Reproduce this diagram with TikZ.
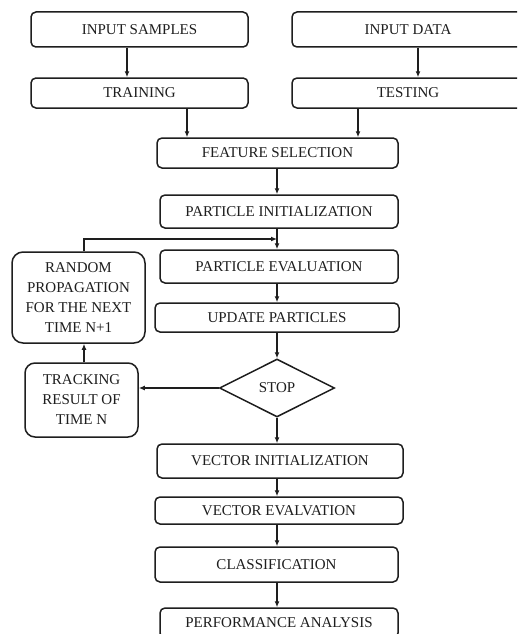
\documentclass[tikz,border=0pt]{standalone}
\usepackage{fontspec}
\setmainfont{Liberation Serif}
\usetikzlibrary{shapes.geometric,arrows.meta}
\definecolor{ink}{HTML}{1E1E1E}
\tikzset{
  box/.style={draw=ink, line width=1.5pt, rounded corners=5pt, inner sep=0pt,
    text=ink, font=\fontsize{15}{20}\selectfont, align=center},
  sidebox/.style={box, rounded corners=11pt},
  decision/.style={draw=ink, line width=1.5pt, diamond, inner sep=0pt, aspect=2,
    minimum width=115pt, minimum height=58pt, text=ink, font=\fontsize{15}{20}\selectfont},
  arr/.style={draw=ink, line width=1.4pt, -{Latex[length=6pt,width=5pt]}},
}
\begin{document}
\begin{tikzpicture}[x=1pt,y=-1pt]
\useasboundingbox (0,0) rectangle (517,634);
\fill[white] (0,0) rectangle (517,634);
\clip (0,0) rectangle (517,634);

% top row
\node[box, minimum width=217, minimum height=35] (ins)   at (139.5,29.5) {INPUT SAMPLES};
\node[box, minimum width=232, minimum height=35] (ind)   at (408,29.5)   {INPUT DATA};
\node[box, minimum width=217, minimum height=30] (train) at (139.5,93)   {TRAINING};
\node[box, minimum width=232, minimum height=30] (test)  at (408,93)     {TESTING};

% main column
\node[box, minimum width=241, minimum height=30] (feat)  at (277.5,153)  {FEATURE SELECTION};
\node[box, minimum width=238, minimum height=33] (pinit) at (279,211.5)  {PARTICLE INITIALIZATION};
\node[box, minimum width=238, minimum height=33] (peval) at (279,266.5)  {PARTICLE EVALUATION};
\node[box, minimum width=244, minimum height=29] (upd)   at (277,317.5)  {UPDATE PARTICLES};
\node[decision] (stop) at (277,388) {STOP};
\node[box, minimum width=246, minimum height=34] (vinit) at (280,461)    {VECTOR INITIALIZATION};
\node[box, minimum width=248, minimum height=27] (veval) at (279,510.5)  {VECTOR EVALVATION};
\node[box, minimum width=243, minimum height=35] (cls)   at (276.5,564.5){CLASSIFICATION};
\node[box, minimum width=238, minimum height=30] (perf)  at (279,623)    {PERFORMANCE ANALYSIS};

% feedback loop
\node[sidebox, minimum width=133, minimum height=91] (rand)  at (78.5,297.5)
  {RANDOM\\PROPAGATION\\FOR THE NEXT\\TIME N+1};
\node[box, rounded corners=10pt, minimum width=113, minimum height=74] (track) at (81.5,400)
  {TRACKING\\RESULT OF\\TIME N};
\coordinate (join) at (277,239);

% connectors
\draw[arr] ([xshift=-12.5]ins.south) -- ([xshift=-12.5]train.north);
\draw[arr] ([xshift=10]ind.south) -- ([xshift=10]test.north);
\draw[arr] ([xshift=47.5]train.south) -- ([xshift=47.5]train.south |- feat.north);
\draw[arr] ([xshift=-50]test.south) -- ([xshift=-50]test.south |- feat.north);
\draw[arr] (feat.south -| stop.north) -- (pinit.north -| stop.north);
\draw[arr] (pinit.south -| stop.north) -- (peval.north -| stop.north);
\draw[arr] ([xshift=5.5]rand.north) |- (join);
\draw[arr] (peval.south -| stop.north) -- (upd.north -| stop.north);
\draw[arr] (upd.south -| stop.north) -- (stop.north);
\draw[arr] (stop.west) -- (stop.west -| track.east);
\draw[arr] ([xshift=2.5]track.north) -- ([xshift=2.5]track.north |- rand.south);
\draw[arr] (stop.south) -- (vinit.north -| stop.south);
\draw[arr] (vinit.south -| stop.south) -- (veval.north -| stop.south);
\draw[arr] (veval.south -| stop.south) -- (cls.north -| stop.south);
\draw[arr] (cls.south -| stop.south) -- (perf.north -| stop.south);
\end{tikzpicture}
\end{document}
